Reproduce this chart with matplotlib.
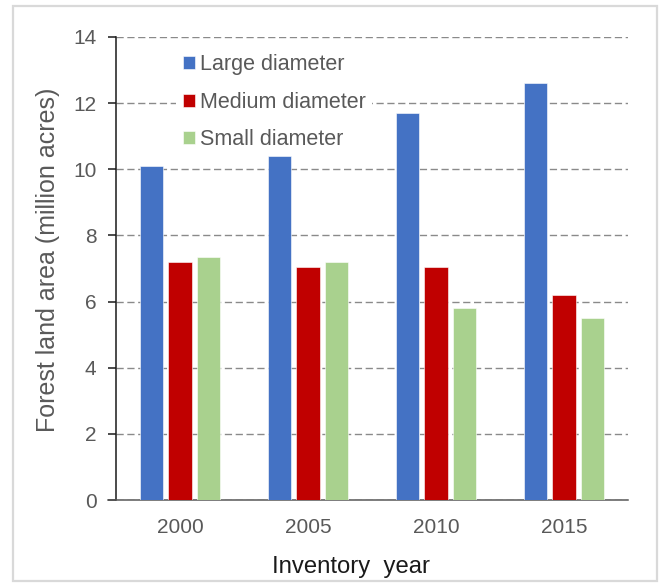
import matplotlib
matplotlib.use("Agg")
import matplotlib.pyplot as plt
from matplotlib.patches import Rectangle
import numpy as np

# Forest land area by stand-size class (million acres)
years = ["2000", "2005", "2010", "2015"]
large_diameter = [10.1, 10.4, 11.7, 12.6]
medium_diameter = [7.2, 7.05, 7.05, 6.2]
small_diameter = [7.35, 7.2, 5.8, 5.5]

series_names = ["Large diameter", "Medium diameter", "Small diameter"]
series_colors = ["#4472C4", "#C00000", "#A9D18E"]

plt.rcParams["font.family"] = ["Liberation Sans", "DejaVu Sans"]

fig = plt.figure(figsize=(6.61, 5.83), dpi=100)
ax = fig.add_axes([116 / 661, 83 / 583, 512 / 661, 463 / 583])

x = np.arange(len(years))
width = 0.18
step = 0.219
for i, (vals, name, color) in enumerate(
        zip([large_diameter, medium_diameter, small_diameter], series_names, series_colors)):
    ax.bar(x + (i - 1) * step, vals, width=width, color=color, label=name,
           edgecolor="white", linewidth=0.4, zorder=3)

ax.set_xlim(-0.5, len(years) - 0.5)
ax.set_ylim(0, 14)
ax.set_yticks(np.arange(0, 15, 2))
ax.set_xticks(x)
ax.set_xticklabels(years)

ax.yaxis.grid(True, linestyle=(0, (5.2, 2.6)), color="#8a8a8a", linewidth=1.0, zorder=0)
ax.set_axisbelow(True)

for side in ("top", "right"):
    ax.spines[side].set_visible(False)
ax.spines["left"].set_color("#1a1a1a")
ax.spines["left"].set_linewidth(1.1)
ax.spines["bottom"].set_color("#595959")
ax.spines["bottom"].set_linewidth(1.1)
ax.spines["bottom"].set_bounds(-0.5 - 8 / 128, len(years) - 0.5)

ax.tick_params(axis="y", length=6, width=1.1, color="#1a1a1a", pad=8,
               labelsize=15, labelcolor="#595959")
ax.tick_params(axis="x", length=0, pad=13, labelsize=15, labelcolor="#595959")

ax.set_ylabel("Forest land area (million acres)", fontsize=18, color="#595959")
ax.yaxis.set_label_coords(-0.109, 0.518)
ax.set_xlabel("Inventory  year", fontsize=17.2, color="#1a1a1a")
ax.xaxis.set_label_coords(0.459, -0.12)

leg = ax.legend(loc="upper left", bbox_to_anchor=(0.097, 1.0), fontsize=15.5,
                frameon=True, framealpha=1, edgecolor="none", fancybox=False,
                handlelength=0.55, handleheight=0.55, handletextpad=0.25,
                labelspacing=0.77, borderpad=0.3)
leg.set_zorder(2)  # sits over the gridlines but under the bars
for t in leg.get_texts():
    t.set_color("#595959")

fig.patches.append(Rectangle((13 / 661, 2 / 583), 644 / 661, 575 / 583,
                             transform=fig.transFigure, fill=False,
                             edgecolor="#d9d9d9", linewidth=1.6))

fig.savefig("out.png", dpi=100)
